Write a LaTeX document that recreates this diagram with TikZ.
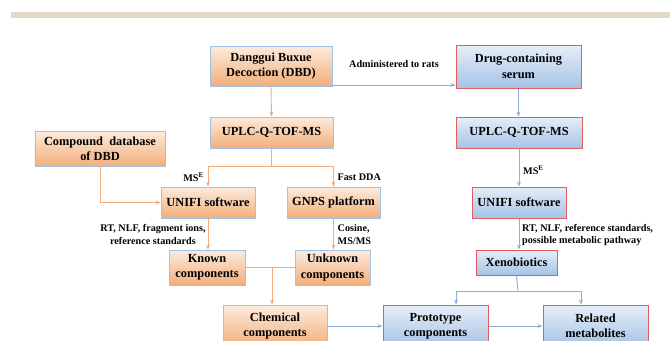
\documentclass[tikz,border=0pt]{standalone}
\usepackage{fontspec}
\setmainfont{Liberation Serif}
\usetikzlibrary{arrows.meta}
\definecolor{barc}{HTML}{E0D9C6}
\definecolor{orTop}{HTML}{FCEBDD}
\definecolor{orBot}{HTML}{F3AE7A}
\definecolor{blTop}{HTML}{E6EEF7}
\definecolor{blBot}{HTML}{A5C3E7}
\definecolor{bordB}{HTML}{9FC2E6}
\definecolor{bordR}{HTML}{E25E5E}
\definecolor{arrO}{HTML}{F2AC7C}
\definecolor{arrB}{HTML}{8EACDD}
\tikzset{
  obox/.style={draw=bordB, line width=0.9pt, top color=orTop, bottom color=orBot, align=center, inner sep=1pt,
    font=\fontsize{12.4}{15.5}\selectfont\bfseries},
  bbox/.style={draw=bordR, line width=1pt, top color=blTop, bottom color=blBot, align=center, inner sep=1pt,
    font=\fontsize{12.4}{15.5}\selectfont\bfseries},
  oarr/.style={draw=arrO, line width=0.9pt, -{Stealth[length=5pt,width=4pt]}},
  oline/.style={draw=arrO, line width=0.9pt},
  barr/.style={draw=arrB, line width=0.9pt, -{Stealth[length=5pt,width=4pt]}},
  bline/.style={draw=arrB, line width=0.9pt},
  lab/.style={font=\fontsize{10.2}{13}\selectfont\bfseries, inner sep=1pt}
}
\begin{document}
\begin{tikzpicture}[x=1bp,y=-1bp]
\clip (0,0) rectangle (670,340);
\fill[white] (0,0) rectangle (670,340);
\fill[barc] (11,12) rectangle (670,17.5);

% left column
\node[obox, minimum width=122bp, minimum height=40bp] (dbd) at (271,66) {Danggui Buxue\\Decoction (DBD)};
\node[obox, minimum width=123bp, minimum height=31bp] (uplcL) at (271.5,132.5) {UPLC-Q-TOF-MS};
\node[obox, minimum width=130bp, minimum height=35bp] (cdb) at (100,148.5) {Compound~ database\\of DBD};
\node[obox, minimum width=94bp, minimum height=31bp] (unifiL) at (208,202.5) {UNIFI software};
\node[obox, minimum width=93bp, minimum height=31bp] (gnps) at (333.5,202.5) {GNPS platform};
\node[obox, minimum width=76bp, minimum height=35bp] (known) at (207,267.5) {Known\\components};
\node[obox, minimum width=75bp, minimum height=35bp] (unknown) at (332.5,267.5) {Unknown\\components};
\node[obox, minimum width=104bp, minimum height=42bp] (chem) at (275,326) {Chemical\\components};

% right column
\node[bbox, minimum width=125bp, minimum height=43bp] (serum) at (518.5,66.5) {Drug-containing\\serum};
\node[bbox, minimum width=126bp, minimum height=31bp] (uplcR) at (519,132.5) {UPLC-Q-TOF-MS};
\node[bbox, minimum width=94bp, minimum height=31bp] (unifiR) at (519,202.5) {UNIFI software};
\node[bbox, minimum width=81bp, minimum height=25bp] (xeno) at (516.5,262.5) {Xenobiotics};
\node[bbox, minimum width=105bp, minimum height=42bp] (proto) at (435.5,326) {Prototype\\components};
\node[bbox, minimum width=105bp, minimum height=42bp] (related) at (595.5,326) {Related\\metabolites};

% coordinates
\coordinate (split1) at (271.5,166);
\coordinate (merge) at (272,267.5);
\coordinate (split2) at (518,291);

% left connectors
\draw[oarr] (dbd.south) -- (uplcL.north);
\draw[oline] (uplcL.south) -- (split1);
\draw[oarr] (split1) -| (unifiL.north);
\draw[oarr] (split1) -| (gnps.north);
\draw[oarr] (cdb.south) |- (unifiL.west);
\draw[oarr] (unifiL.south) -- (unifiL.south |- known.north);
\draw[oarr] (gnps.south) -- (gnps.south |- unknown.north);
\draw[oline] (known.east) -- (unknown.west);
\draw[oarr] (merge) -- (merge |- chem.north);

% cross connectors
\draw[barr] ([yshift=-19bp]dbd.east) -- ([yshift=-19bp]dbd.east -| serum.west)
  node[lab, midway, yshift=21bp] (admin) {Administered to rats};
\draw[barr] (chem.east) -- (proto.west);
\draw[barr] (proto.east) -- (related.west);

% right connectors
\draw[barr] (serum.south) -- (serum.south |- uplcR.north);
\draw[barr] (uplcR.south) -- (uplcR.south |- unifiR.north);
\draw[barr] (unifiR.south) -- (unifiR.south |- xeno.north);
\draw[bline] (xeno.south) -- (split2);
\draw[barr] (split2) -| ([xshift=20.5bp]proto.north);
\draw[barr] (split2) -| ([xshift=-14.5bp]related.north);

% labels
\node[lab, anchor=east] (lmse) at (205,177) {MS\textsuperscript{E}};
\node[lab, anchor=west] (lfdda) at (336.5,177) {Fast DDA};
\node[lab, align=center] (lrt) at (153,234) {RT, NLF, fragment ions,\\reference standards};
\node[lab, align=left, anchor=west] (lcos) at (336.5,234.5) {Cosine,\\MS/MS};
\node[lab, anchor=west] (lmse2) at (522,170) {MS\textsuperscript{E}};
\node[lab, align=left, anchor=west] (lrt2) at (521,235) {RT, NLF, reference standards,\\possible metabolic pathway};
\end{tikzpicture}
\end{document}
